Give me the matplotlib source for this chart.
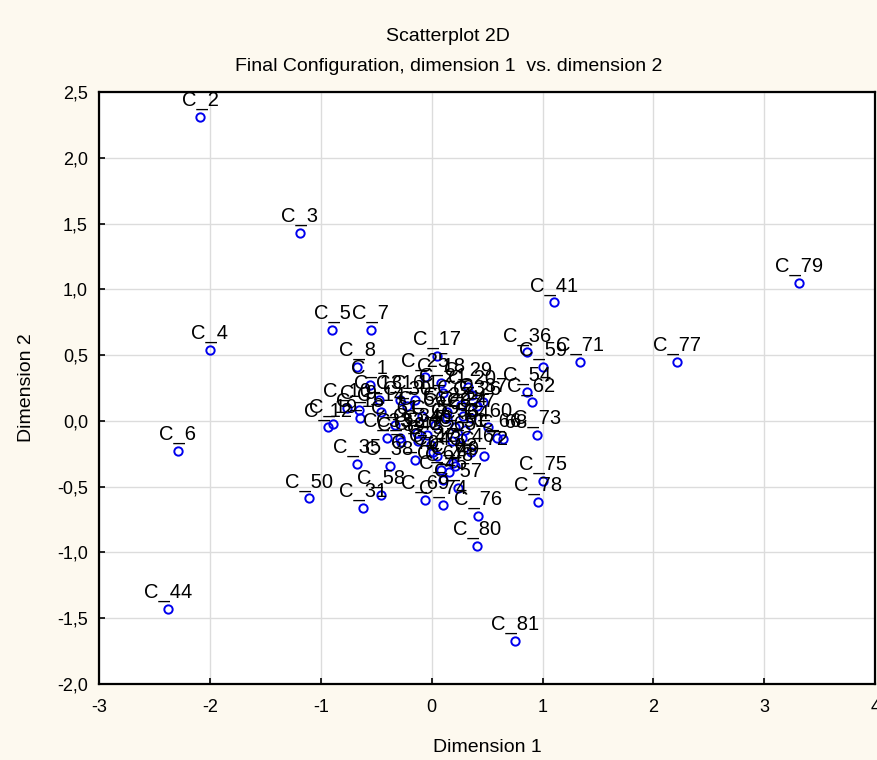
import matplotlib
matplotlib.use("Agg")
import matplotlib.pyplot as plt
from matplotlib.ticker import FuncFormatter

plt.rcParams['font.family'] = ['Liberation Sans', 'DejaVu Sans']
plt.rcParams['axes.unicode_minus'] = False

# point names and coordinates (dimension 1, dimension 2)
labels = ["C_%d" % i for i in range(1, 82)]
dim1 = [-0.56, -2.09, -1.19, -2.00, -0.90, -2.29, -0.55, -0.67, -0.66, -0.76,
        -0.15, -0.94, -0.48, -0.46, -0.65, -0.29, 0.05, 0.08, -0.89, 0.36,
        0.10, 0.14, 0.26, 0.28, -0.06, 0.41, 0.35, 0.14, 0.33, -0.22,
        -0.62, -0.29, -0.40, -0.13, -0.67, 0.86, 0.46, -0.38, -0.28, -0.04,
        1.10, -0.12, 0.05, -2.38, 0.10, 0.35, 0.01, 0.16, 0.21, -1.11,
        0.27, -0.01, 0.21, 0.86, 0.03, -0.09, 0.24, -0.46, 1.00, 0.51,
        -0.33, 0.90, 0.19, 0.30, 0.18, 0.59, 0.08, 0.64, -0.06, -0.15,
        1.34, 0.47, 0.95, 0.10, 1.00, 0.42, 2.21, 0.96, 3.31, 0.41,
        0.75]
dim2 = [0.27, 2.31, 1.43, 0.54, 0.69, -0.23, 0.69, 0.41, 0.08, 0.10,
        0.16, -0.05, 0.16, 0.07, 0.02, 0.16, 0.49, 0.29, -0.02, 0.20,
        0.21, 0.07, 0.12, 0.04, 0.33, 0.11, 0.02, 0.02, 0.26, 0.11,
        -0.66, -0.13, -0.13, -0.09, -0.33, 0.52, 0.14, -0.34, -0.16, -0.11,
        0.90, -0.15, -0.27, -1.43, -0.45, -0.24, -0.24, -0.39, -0.34, -0.59,
        -0.13, -0.18, -0.05, 0.22, -0.03, 0.04, -0.51, -0.56, 0.41, -0.05,
        -0.03, 0.14, -0.32, -0.07, -0.15, -0.13, -0.37, -0.14, -0.60, -0.30,
        0.45, -0.27, -0.11, -0.64, -0.46, -0.72, 0.45, -0.62, 1.05, -0.95,
        -1.67]

fig = plt.figure(figsize=(8.77, 7.6), dpi=100, facecolor='#fdf9ef')
ax = fig.add_axes([0.113, 0.1, 0.885, 0.779])
ax.set_facecolor('white')

ax.plot(dim1, dim2, 'o', markerfacecolor='none', markeredgecolor='#0000ee',
        markersize=6, markeredgewidth=1.4, zorder=3)
for name, x, y in zip(labels, dim1, dim2):
    ax.annotate(name, (x, y), xytext=(0, 5), textcoords='offset points',
                ha='center', va='bottom', fontsize=14.5, zorder=4)

ax.set_xlim(-3, 4)
ax.set_ylim(-2, 2.5)
ax.set_xticks(range(-3, 5))
ax.set_yticks([-2.0, -1.5, -1.0, -0.5, 0.0, 0.5, 1.0, 1.5, 2.0, 2.5])
ax.yaxis.set_major_formatter(FuncFormatter(lambda v, p: ("%.1f" % v).replace('.', ',')))
ax.grid(True, color='#dcdcdc', linewidth=1)
ax.set_axisbelow(True)
ax.tick_params(direction='in', length=4, labelsize=13, width=1.2)
ax.tick_params(axis='x', pad=11)
ax.tick_params(axis='y', pad=8)
for s in ax.spines.values():
    s.set_linewidth(1.6)

ax.set_xlabel("Dimension 1", fontsize=14, labelpad=16)
ax.set_ylabel("Dimension 2", fontsize=14, labelpad=16)

fig.text(0.511, 0.952, "Scatterplot 2D", ha='center', va='center', fontsize=14)
fig.text(0.512, 0.912, "Final Configuration, dimension 1  vs. dimension 2",
         ha='center', va='center', fontsize=14)

fig.savefig("out.png", dpi=100, facecolor=fig.get_facecolor())
